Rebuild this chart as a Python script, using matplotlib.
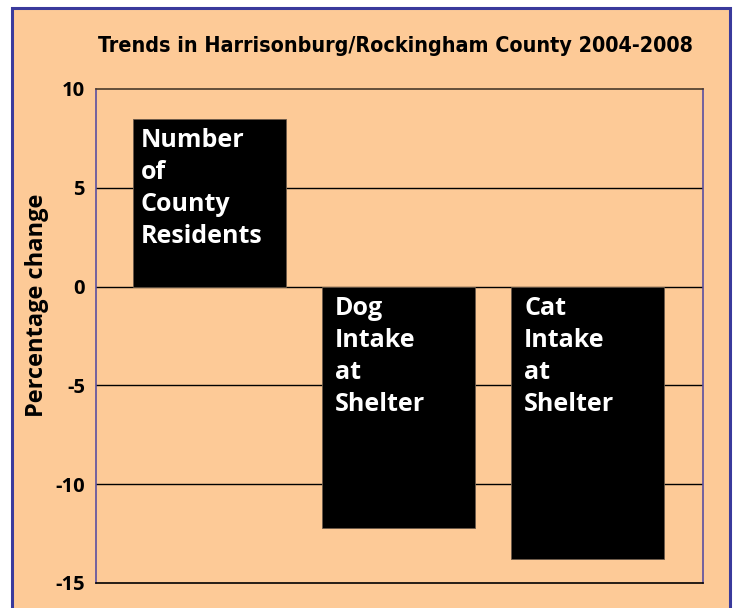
import matplotlib
matplotlib.use("Agg")
import matplotlib.pyplot as plt
from matplotlib.patches import Rectangle
from matplotlib import font_manager

categories = ["Number\nof\nCounty\nResidents", "Dog\nIntake\nat\nShelter", "Cat\nIntake\nat\nShelter"]
values = [8.5, -12.2, -13.8]
yticks = [10, 5, 0, -5, -10, -15]
title = "Trends in Harrisonburg/Rockingham County 2004-2008"
ylabel = "Percentage change"

fl = font_manager.fontManager.ttflist
names = {f.name for f in fl}
cond = [f for f in fl if (("Narrow" in f.name or "Condensed" in f.name or
                           str(f.stretch) in ("condensed", "semi-condensed", "extra-condensed", "narrow")))
        and (f.weight in ("bold", 700) or (isinstance(f.weight, int) and f.weight >= 600))]
if cond:
    title_prop = font_manager.FontProperties(fname=cond[0].fname)
else:
    title_prop = font_manager.FontProperties(family="Roboto" if "Roboto" in names else "DejaVu Sans",
                                             weight="bold")
body_font = "Open Sans" if "Open Sans" in names else "DejaVu Sans"

PEACH = "#FDCA97"
PURPLE = "#3A3A9C"

W, H = 734, 608
fig = plt.figure(figsize=(W / 100, H / 100), dpi=100, facecolor="white")
bg = Rectangle((12 / W, -0.02), (730 - 12) / W, (H - 8) / H + 0.02,
               transform=fig.transFigure, facecolor=PEACH, edgecolor=PURPLE,
               linewidth=2.2, zorder=-10)
fig.patches.append(bg)

ax = fig.add_axes([96 / W, 1 - 583 / H, (703 - 96) / W, (583 - 89) / H])
ax.set_facecolor(PEACH)
x = list(range(len(values)))
ax.bar(x, values, width=0.81, color="black", edgecolor="#6b5a4a", linewidth=0.6, zorder=3)
ax.set_xlim(-0.6, 2.61)
ax.set_ylim(-15, 10)
ax.set_yticks(yticks)
ax.set_yticklabels([str(v) for v in yticks], fontsize=14.5, fontweight="bold", family=body_font)
ax.tick_params(axis="y", length=0, pad=8)
ax.set_xticks([])
for v in [5, 0, -5, -10]:
    ax.axhline(v, color="black", linewidth=1.0, zorder=1)
ax.spines["left"].set_color("#5a4fa0")
ax.spines["right"].set_color("#5a4fa0")
ax.spines["top"].set_color("#4a3a2a")
ax.spines["bottom"].set_color("black")
for s in ax.spines.values():
    s.set_linewidth(1.2)

for xi, v, lab in zip(x, values, categories):
    top = max(v, 0)
    ax.annotate(lab, xy=(xi - 0.405, top), xytext=(8 if v > 0 else 13, -9),
                textcoords="offset pixels", ha="left", va="top",
                color="white", fontsize=18, fontweight="bold", family=body_font,
                linespacing=1.38, zorder=4)

title_prop.set_size(18)
t = fig.text(395 / W, 1 - 46 / H, title, ha="center", va="center", fontproperties=title_prop)
fig.canvas.draw()
wpx = t.get_window_extent().width
target = 596
title_prop.set_size(18 * target / wpx)
t.set_fontproperties(title_prop)

fig.text(37 / W, 1 - 305 / H, ylabel, ha="center", va="center", rotation=90,
         fontsize=17, fontweight="bold", family=body_font)

fig.savefig("out.png", dpi=100, facecolor="white")
